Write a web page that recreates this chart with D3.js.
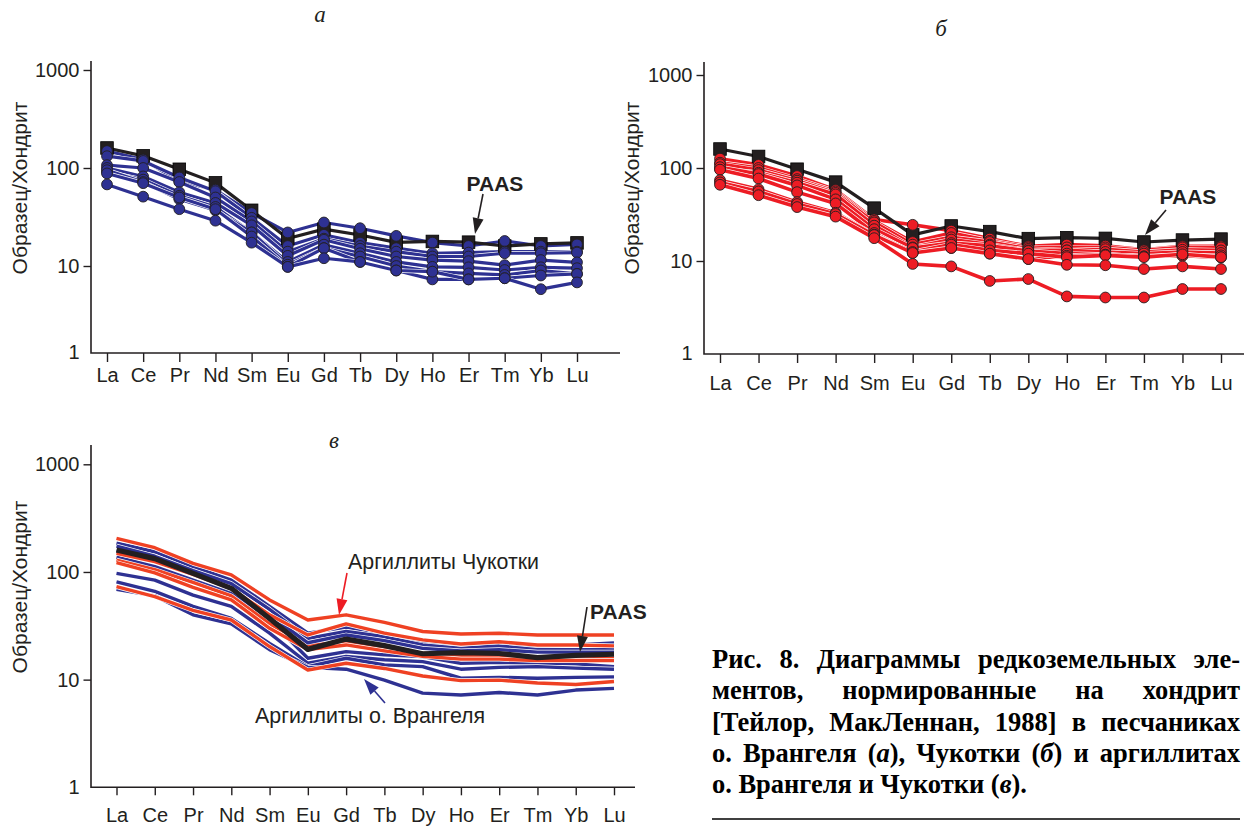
<!DOCTYPE html>
<html>
<head>
<meta charset="utf-8">
<script src="https://cdn.jsdelivr.net/npm/d3@7"></script>
<style>
  body { margin: 0; background: #fff; }
  svg { display: block; }
</style>
</head>
<body>
<svg id="fig" width="1244" height="826"></svg>
<script>
// Rare earth elements along the x axis
const elements = ["La","Ce","Pr","Nd","Sm","Eu","Gd","Tb","Dy","Ho","Er","Tm","Yb","Lu"];
const yTicks = [10, 100, 1000];
const yAxisTitle = "Образец/Хондрит";

// Post-Archean Australian Shale, chondrite-normalised
const paas = [160, 133, 97, 70.5, 37, 19.1, 23.8, 20.7, 17.4, 17.8, 17.5, 16, 16.8, 17.2];

// (а) sandstones, Wrangel Island
const wrangelSandstones = [
  [149, 122, 73, 60, 34.7, 22, 27.8, 24.3, 20.3, 17.3, 16, 18, 16, 16.6],
  [132, 118, 80, 58, 31, 16, 20.8, 17.3, 15.2, 13.5, 13.7, 14, 14, 14],
  [107, 100, 72, 50, 28.5, 14, 19, 16, 14, 12.5, 12.5, 13.5, 13.5, 13.7],
  [100, 82, 56.5, 44, 26, 12.7, 18.5, 15, 12.5, 11.5, 11.2, 10.2, 11.5, 10.9],
  [91, 76, 52, 40, 22, 11, 16.5, 13.5, 11, 9.8, 9.7, 9.1, 9.7, 9.5],
  [95, 72, 48, 37, 22, 10.3, 15.2, 12.5, 10, 8.75, 8.4, 8.1, 9, 8.3],
  [88, 70, 50, 38, 20, 9.8, 15.2, 11, 9, 7.3, 7.3, 7.5, 8, 8.3],
  [68, 51, 38, 29, 17.3, 9.8, 12, 11, 9, 8.75, 7.3, 7.5, 5.8, 6.8]
];

// (б) sandstones, Chukotka
const chukotkaSandstones = [
  [126, 108, 82, 58, 28, 24.5, 21.2, 17.4, 14.4, 15, 14.6, 13.2, 14.4, 14.4],
  [114, 100, 76, 56, 27, 16, 20, 16.5, 14, 14, 14, 13, 14, 14],
  [110, 95, 73, 54, 26, 15, 18, 16, 13.5, 13, 13.4, 12.5, 13.2, 13],
  [98, 89, 69.5, 52, 24, 14, 17, 15, 13, 13, 12.5, 12, 12.5, 12.2],
  [102, 86, 65, 46, 22, 13.8, 15.6, 14.6, 12.8, 12, 11.7, 11.2, 11.4, 11.5],
  [96, 77, 55, 41.6, 20, 12.2, 13.8, 12, 10.5, 11.4, 11.7, 11.2, 11.4, 10.9],
  [74, 59, 43, 33, 19.2, 12.5, 15, 13, 12, 11, 11.5, 11, 11.8, 11],
  [70, 56, 41, 32, 19, 12.2, 13.8, 12, 10.5, 9.1, 9, 8.2, 8.75, 8.2],
  [66, 51, 38, 30, 17.6, 9.3, 8.75, 6.1, 6.4, 4.16, 4.05, 4.05, 5.0, 5.0]
];

// (в) mudstones, Wrangel Island
const wrangelMudstones = [
  [185, 154, 112, 84, 48, 27, 30.7, 27, 22.5, 21, 22, 20.5, 21, 21.9],
  [174, 140, 103, 78, 45, 24.2, 28, 25, 21, 19.5, 20.5, 19, 19, 19],
  [155, 128, 95, 70, 40, 22, 26, 23, 19.5, 18.5, 19, 18, 18, 18],
  [137, 112, 84, 63, 36, 15.8, 18.2, 17, 16.4, 14.2, 14.5, 14.2, 14, 13.2],
  [97, 84, 61, 48, 27, 14.2, 16.4, 15.3, 14.7, 12.5, 13, 13.2, 12.8, 12.5],
  [81, 66, 48, 37, 21.7, 13.2, 15.8, 13.7, 13.2, 10.3, 10.5, 10.3, 10.5, 10.6],
  [69, 60, 40, 33, 19, 13, 12.5, 9.9, 7.5, 7.2, 7.6, 7.2, 8, 8.3]
];

// (в) mudstones, Chukotka
const chukotkaMudstones = [
  [205, 168, 120, 94, 55, 35.8, 40, 34, 28, 26.5, 27, 26, 26, 26],
  [149, 125, 95, 70, 40, 26, 32.9, 27, 23.4, 21.4, 22.5, 21, 21, 20.6],
  [129, 105, 80, 60, 33, 21, 22, 20, 17.6, 16.4, 16.4, 15.6, 15.5, 15.8],
  [122, 98, 72, 55, 30, 19, 21, 18.5, 16.5, 15.5, 15.5, 15, 15, 15],
  [73, 59, 44, 35.8, 20.3, 12.3, 14.2, 12.7, 10.8, 9.8, 9.9, 9.3, 9, 9.6]
];

const captionLines = [
  "Рис. 8. Диаграммы редкоземельных эле-",
  "ментов, нормированные на хондрит",
  "[Тейлор, МакЛеннан, 1988] в песчаниках",
  "о. Врангеля (_а_), Чукотки (_б_) и аргиллитах",
  "о. Врангеля и Чукотки (_в_)."
];

// ---------------------------------------------------------------
const INK = "#231f20";
const BLUE = "#2e3192";
const RED = "#ed1c24";
const RED2 = "#ef4123";
const SANS = "'Liberation Sans', Arial, Helvetica, sans-serif";
const SERIF = "'Liberation Serif', 'Times New Roman', serif";

const svg = d3.select("#fig");

function arrow(g, x1, y1, x2, y2, color) {
  const len = 16, half = 5.5;
  const dx = x2 - x1, dy = y2 - y1, d = Math.hypot(dx, dy);
  const ux = dx / d, uy = dy / d;
  const bx = x2 - ux * len, by = y2 - uy * len;
  g.append("line").attr("x1", x1).attr("y1", y1).attr("x2", bx).attr("y2", by)
    .attr("stroke", color).attr("stroke-width", 1.6);
  g.append("path")
    .attr("d", `M${x2},${y2}L${bx - uy * half},${by + ux * half}L${bx + uy * half},${by - ux * half}Z`)
    .attr("fill", color);
}

function drawPanel(cfg) {
  const g = svg.append("g");
  const x = d3.scalePoint().domain(elements).range(cfg.xRange);
  const y = d3.scaleLog().domain([1, 1000]).range(cfg.yRange);

  // panel letter
  g.append("text").attr("x", cfg.letterPos[0]).attr("y", cfg.letterPos[1])
    .attr("text-anchor", "middle").attr("font-family", SERIF)
    .attr("font-style", "italic").attr("font-size", 23).attr("fill", INK)
    .text(cfg.letter);

  // y axis title
  g.append("text")
    .attr("transform", `translate(${cfg.titlePos[0]},${cfg.titlePos[1]}) rotate(-90)`)
    .attr("text-anchor", "middle").attr("dominant-baseline", "central")
    .attr("font-family", SANS).attr("font-size", 21).attr("fill", INK)
    .text(yAxisTitle);

  // axes
  const ya = g.append("g").attr("transform", `translate(${cfg.axisX},0)`)
    .call(d3.axisLeft(y).tickValues(yTicks).tickFormat(d3.format("d"))
      .tickSize(7.5).tickPadding(4).tickSizeOuter(0));
  ya.select(".domain").remove();
  const xa = g.append("g").attr("transform", `translate(0,${cfg.axisY})`)
    .call(d3.axisBottom(x).tickSize(cfg.xTick).tickPadding(cfg.xPad).tickSizeOuter(0));
  xa.select(".domain").remove();
  [ya, xa].forEach(a => {
    a.selectAll("line").attr("stroke", INK).attr("stroke-width", 1.4);
    a.selectAll("text").attr("font-family", SANS).attr("font-size", 20).attr("fill", INK);
  });
  g.append("text").attr("x", cfg.axisX - 11.5).attr("y", cfg.axisY)
    .attr("dy", "0.32em").attr("text-anchor", "end")
    .attr("font-family", SANS).attr("font-size", 20).attr("fill", INK).text("1");
  g.append("path")
    .attr("d", `M${cfg.axisX},${cfg.axisTop}V${cfg.axisY}H${cfg.axisRight}`)
    .attr("fill", "none").attr("stroke", INK).attr("stroke-width", 1.6);

  const line = d3.line().x((d, i) => x(elements[i])).y(d => y(d));
  const lines = g.append("g").attr("fill", "none").attr("stroke-linejoin", "round");
  const marks = g.append("g");

  cfg.series.forEach(s => {
    if (!s.width) return;
    s.data.forEach(row => {
      if (s.casing) {
        lines.append("path").attr("d", line(row))
          .attr("stroke", "#fff").attr("stroke-width", s.width + 1.3);
      }
      lines.append("path").attr("d", line(row))
        .attr("stroke", s.color).attr("stroke-width", s.width);
    });
  });

  cfg.series.forEach(s => {
    if (!s.marker) return;
    s.data.forEach(row => {
      row.forEach((v, i) => {
        if (s.marker === "square") {
          marks.append("rect").attr("x", x(elements[i]) - 6.3).attr("y", y(v) - 6.3)
            .attr("width", 12.6).attr("height", 12.6)
            .attr("fill", INK).attr("stroke", "#000").attr("stroke-width", 0.8);
        } else {
          marks.append("circle").attr("cx", x(elements[i])).attr("cy", y(v)).attr("r", 5.4)
            .attr("fill", s.color).attr("stroke", INK).attr("stroke-width", 0.9);
        }
      });
    });
  });
  return { g, x, y };
}

// (а)
drawPanel({
  letter: "а", letterPos: [320, 22], titlePos: [19, 188],
  xRange: [107, 577], yRange: [364, 70],
  axisX: 91, axisY: 353, axisTop: 61, axisRight: 620, xTick: 9, xPad: 6,
  series: [
    { data: wrangelSandstones, color: BLUE, width: 3.2, casing: true },
    { data: [paas], color: INK, width: 3.2, marker: "square" },
    { data: wrangelSandstones, color: BLUE, width: 0, marker: "circle" }
  ]
});

// (б)
drawPanel({
  letter: "б", letterPos: [941, 36], titlePos: [631, 188],
  xRange: [720, 1221], yRange: [354, 75],
  axisX: 704, axisY: 354, axisTop: 62, axisRight: 1244, xTick: 9, xPad: 13,
  series: [
    { data: chukotkaSandstones, color: RED, width: 3.6, casing: true },
    { data: [paas], color: INK, width: 3.2, marker: "square" },
    { data: chukotkaSandstones, color: RED, width: 0, marker: "circle" }
  ]
});

// (в)
drawPanel({
  letter: "в", letterPos: [334, 448], titlePos: [19, 587],
  xRange: [116.5, 614], yRange: [787.3, 464.3],
  axisX: 91, axisY: 787.3, axisTop: 445, axisRight: 635, xTick: 8, xPad: 13,
  series: [
    { data: wrangelMudstones.slice(3), color: BLUE, width: 3.4, casing: true },
    { data: chukotkaMudstones.slice(2), color: RED2, width: 3.4, casing: true },
    { data: wrangelMudstones.slice(0, 3), color: BLUE, width: 3.4, casing: true },
    { data: chukotkaMudstones.slice(0, 2), color: RED2, width: 3.4, casing: true },
    { data: [paas], color: INK, width: 5.2 }
  ]
});

// annotations
function paasLabel(px, py, anchor) {
  svg.append("text").attr("x", px).attr("y", py).attr("text-anchor", anchor)
    .attr("font-family", SANS).attr("font-weight", "bold").attr("font-size", 21)
    .attr("fill", INK).text("PAAS");
}
paasLabel(495, 191, "middle");
arrow(svg, 483, 194, 475, 234, INK);
paasLabel(1188, 204, "middle");
arrow(svg, 1166, 210, 1145, 235, INK);
paasLabel(590, 619, "start");
arrow(svg, 587, 607, 580, 652, INK);

svg.append("text").attr("x", 348).attr("y", 569)
  .attr("font-family", SANS).attr("font-size", 21.4).attr("fill", INK)
  .text("Аргиллиты Чукотки");
arrow(svg, 347, 573, 339, 615, RED);
svg.append("text").attr("x", 255).attr("y", 723)
  .attr("font-family", SANS).attr("font-size", 21.4).attr("fill", INK)
  .text("Аргиллиты о. Врангеля");
arrow(svg, 385, 703, 364, 679, BLUE);

// caption, justified between left and right edges
const capLeft = 712, capRight = 1240, capTop = 668, capStep = 31.3;
const cap = svg.append("g").attr("font-family", SERIF).attr("font-weight", "bold")
  .attr("font-size", 26.5).attr("fill", "#000");
captionLines.forEach((ln, li) => {
  const words = ln.split(" ");
  const nodes = words.map(w => {
    const t = cap.append("text").attr("y", capTop + li * capStep);
    w.split("_").forEach((seg, k) => {
      if (seg) t.append("tspan").attr("font-style", k % 2 ? "italic" : "normal").text(seg);
    });
    return t;
  });
  const widths = nodes.map(n => n.node().getComputedTextLength());
  const total = d3.sum(widths);
  const last = li === captionLines.length - 1;
  const gap = last ? 6.5 : (capRight - capLeft - total) / (words.length - 1);
  let cx = capLeft;
  nodes.forEach((n, i) => { n.attr("x", cx); cx += widths[i] + gap; });
});
svg.append("line").attr("x1", 712).attr("x2", 1240).attr("y1", 819).attr("y2", 819)
  .attr("stroke", "#000").attr("stroke-width", 1.6);
</script>
</body>
</html>
